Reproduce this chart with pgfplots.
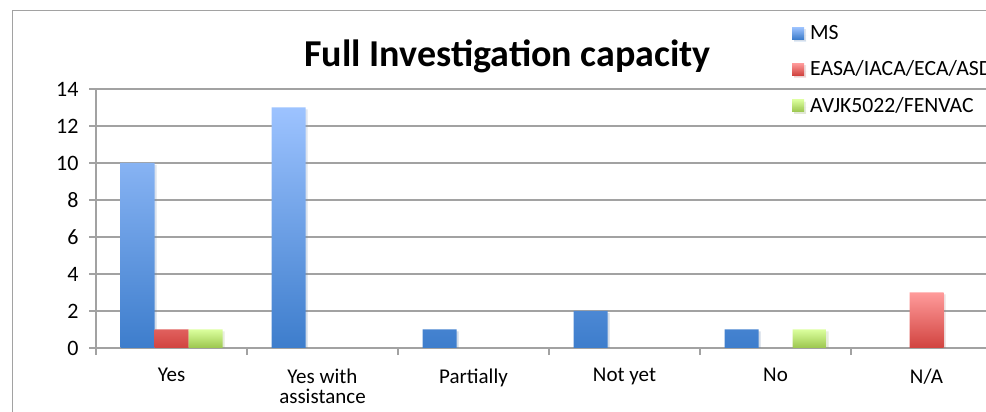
\documentclass[border=0pt]{standalone}
\usepackage{pgfplots}
\pgfplotsset{compat=1.18}
\usepackage{fontspec}
\setmainfont{Carlito}
\usetikzlibrary{shadows}
\definecolor{gridc}{HTML}{A2A2A2}
\definecolor{msT}{HTML}{9DC3FF}\definecolor{msB}{HTML}{3D7DCC}
\definecolor{eaT}{HTML}{FF9B9B}\definecolor{eaB}{HTML}{D1433F}
\definecolor{avT}{HTML}{DBFF9D}\definecolor{avB}{HTML}{9BC64E}
\begin{document}
\begin{tikzpicture}
\draw[gridc, line width=1.2bp] (12.5bp,401.5bp) rectangle (1010bp,-20bp);
\begin{axis}[
  at={(96bp,64bp)}, anchor=south west,
  scale only axis, width=906bp, height=259bp,
  xmin=0, xmax=6, ymin=0, ymax=14,
  ybar=0pt, bar width=34bp,
  axis x line*=bottom, axis y line*=left,
  axis line style={gridc, line width=1.2bp, -},
  ymajorgrids, grid style={gridc, line width=1.2bp},
  ytick={0,2,...,14},
  yticklabel style={xshift=-7bp, font=\fontsize{22bp}{24bp}\selectfont, text=black},
  xtick={0,1,...,6}, xticklabels={},
  extra x ticks={0.5,1.5,2.5,3.5,4.5,5.5},
  extra x tick labels={Yes,{Yes with\\assistance},Partially,Not yet,No,N/A},
  extra x tick style={major tick length=0pt, xticklabel style={align=center, text=black, yshift=-17bp, font=\fontsize{21bp}{20bp}\selectfont}},
  tick style={gridc, line width=1.2bp},
  major tick length=7bp,
  tick align=outside,
  /pgf/number format/assume math mode=true,
  title={Full Investigation capacity},
  every axis title shift=0pt,
  title style={font=\bfseries\fontsize{38bp}{42bp}\selectfont, at={(rel axis cs:0.4542,1.085)}, anchor=base},
  legend style={at={(rel axis cs:0.7649,1.262)}, anchor=north west, draw=none, fill=none,
    font=\fontsize{21.7bp}{24bp}\selectfont, row sep=16bp},
  legend cell align=left,
  legend image code/.code={\path[#1, draw=none] (0bp,-6bp) rectangle (12bp,6bp); \path (0bp,0bp) -- (16bp,0bp);},
]
\addplot[draw=none, top color=msT, bottom color=msB, drop shadow={opacity=0.15, shadow xshift=2bp, shadow yshift=-2bp}]
  coordinates {(0.5,10) (1.5,13) (2.5,1) (3.5,2) (4.5,1)};
\addplot[draw=none, top color=eaT, bottom color=eaB, drop shadow={opacity=0.15, shadow xshift=2bp, shadow yshift=-2bp}]
  coordinates {(0.5,1) (5.5,3)};
\addplot[draw=none, top color=avT, bottom color=avB, drop shadow={opacity=0.15, shadow xshift=2bp, shadow yshift=-2bp}]
  coordinates {(0.5,1) (4.5,1)};
\legend{MS, EASA/IACA/ECA/ASD, AVJK5022/FENVAC}
\end{axis}
\pgfresetboundingbox
\useasboundingbox (0,0) rectangle (986bp,412bp);
\end{tikzpicture}
\end{document}
